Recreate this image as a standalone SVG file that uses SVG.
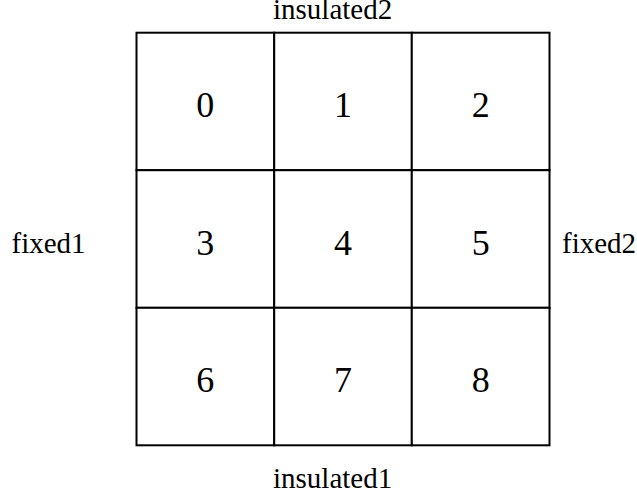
<svg xmlns="http://www.w3.org/2000/svg" width="637" height="497" viewBox="0 0 637 497">
<style>
.cell{fill:#fff;stroke:#000;stroke-width:2}
.num{font-family:"Liberation Serif",serif;font-size:36px;text-anchor:middle;fill:#000}
.lbl{font-family:"Liberation Serif",serif;font-size:29px;fill:#000}
</style>
<rect width="637" height="497" fill="#fff"/>
<g id="cell0"><rect class="cell" x="136.5" y="32.7" width="137.7" height="137.5"/><text class="num" x="205.3" y="117">0</text></g>
<g id="cell1"><rect class="cell" x="274.2" y="32.7" width="137.6" height="137.5"/><text class="num" x="343" y="117">1</text></g>
<g id="cell2"><rect class="cell" x="411.8" y="32.7" width="137.7" height="137.5"/><text class="num" x="480.7" y="117">2</text></g>
<g id="cell3"><rect class="cell" x="136.5" y="170.2" width="137.7" height="137.6"/><text class="num" x="205.3" y="254.5">3</text></g>
<g id="cell4"><rect class="cell" x="274.2" y="170.2" width="137.6" height="137.6"/><text class="num" x="343" y="254.5">4</text></g>
<g id="cell5"><rect class="cell" x="411.8" y="170.2" width="137.7" height="137.6"/><text class="num" x="480.7" y="254.5">5</text></g>
<g id="cell6"><rect class="cell" x="136.5" y="307.8" width="137.7" height="137.5"/><text class="num" x="205.3" y="392">6</text></g>
<g id="cell7"><rect class="cell" x="274.2" y="307.8" width="137.6" height="137.5"/><text class="num" x="343" y="392">7</text></g>
<g id="cell8"><rect class="cell" x="411.8" y="307.8" width="137.7" height="137.5"/><text class="num" x="480.7" y="392">8</text></g>
<g id="labels">
<text id="insulated2" class="lbl" x="273" y="19">insulated2</text>
<text id="insulated1" class="lbl" x="273" y="488">insulated1</text>
<text id="fixed1" class="lbl" x="11.5" y="253">fixed1</text>
<text id="fixed2" class="lbl" x="562" y="253">fixed2</text>
</g>
<g id="connectors"></g>
</svg>
